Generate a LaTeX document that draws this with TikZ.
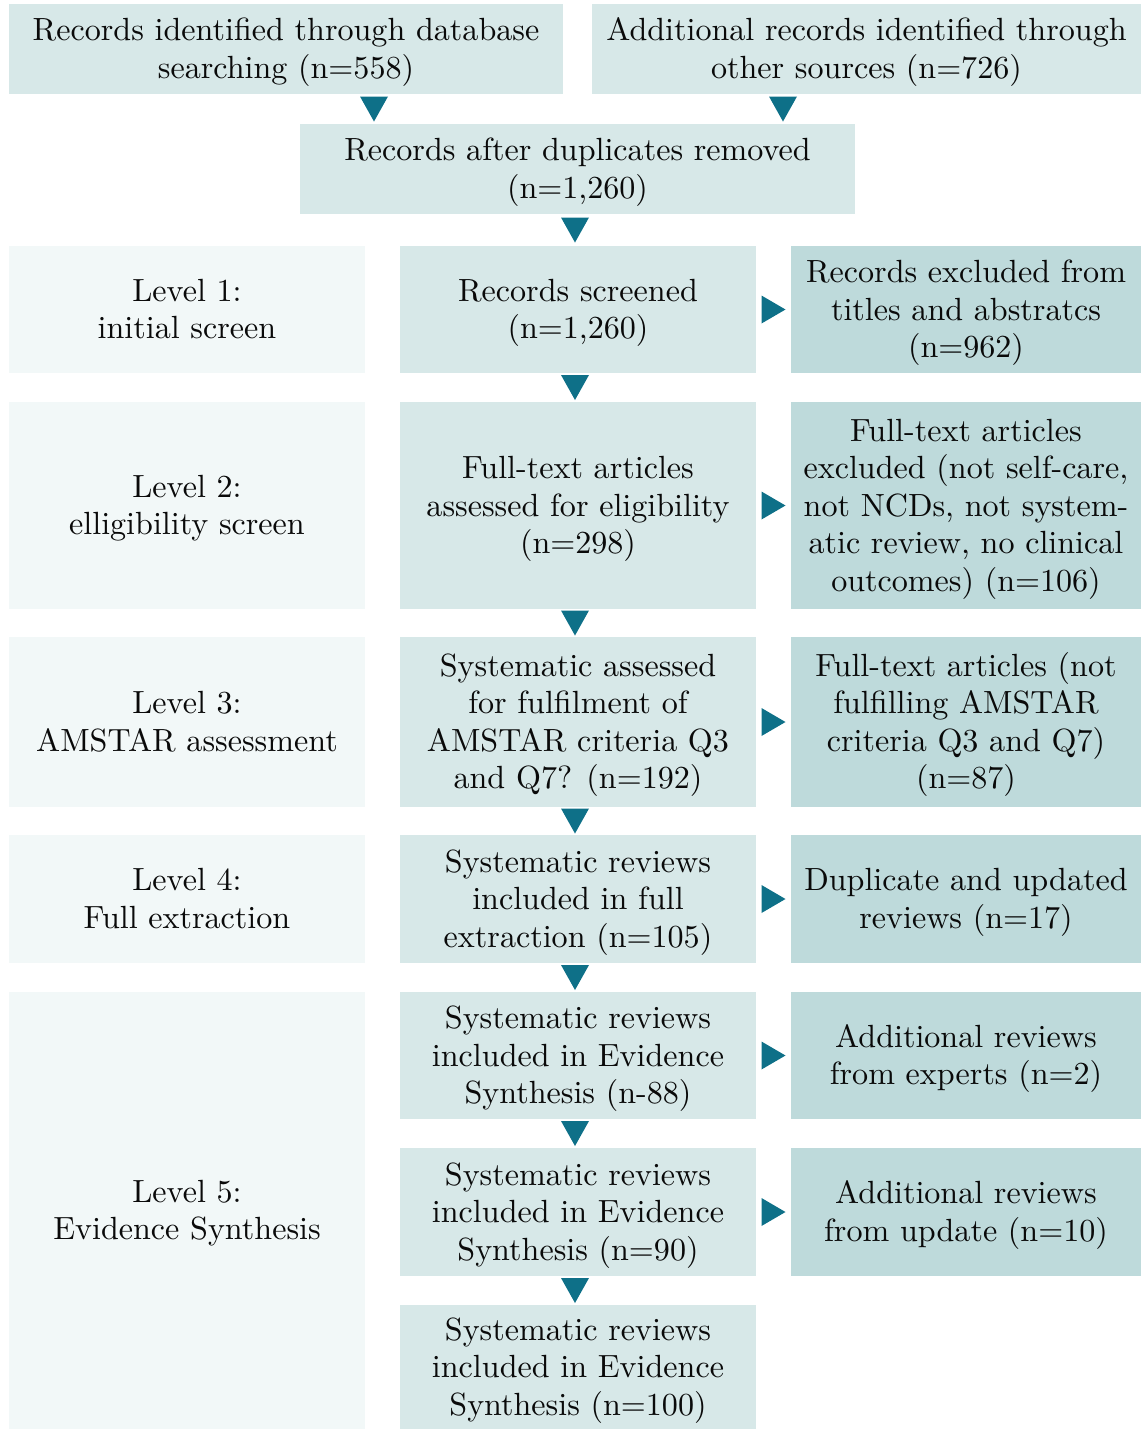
\documentclass[tikz,border=0pt]{standalone}
\usetikzlibrary{calc}
\definecolor{boxc}{HTML}{D7E8E8}
\definecolor{exc}{HTML}{BEDADB}
\definecolor{lvc}{HTML}{F2F8F8}
\definecolor{arrc}{HTML}{0E7088}
\definecolor{txt}{HTML}{0A0A0A}
\tikzset{
  base/.style={inner sep=0pt, outer sep=0pt, text=txt,
    font=\fontsize{10.7}{12.5}\selectfont},
  mainbox/.style={base, fill=boxc},
  exbox/.style={base, fill=exc},
  lvbox/.style={base, fill=lvc},
  arrfill/.style={fill=arrc},
}
% name, style, x1, y1, x2, y2, text   (pixel coordinates, y downward)
\newcommand\bx[7]{\node[#2, minimum width={(#5-#3)*0.33333pt}, minimum height={(#6-#4)*0.33333pt}] (#1) at ({(#3+#5)/2},{(#4+#6)/2}) {\raisebox{-1pt}[\height][\depth]{\begin{tabular}{@{}c@{}}#7\end{tabular}}};}
\newcommand\darr[2]{\fill[arrfill] ($#1!.5!#2$) ++(-14,-12.5) -- ++(28,0) -- ++(-14,25) -- cycle;}
\newcommand\rarr[2]{\fill[arrfill] ($#1!.5!#2$) ++(-12,-14) -- ++(24,14) -- ++(-24,14) -- cycle;}
\begin{document}
\begin{tikzpicture}[x=0.33333pt, y=-0.33333pt]
\useasboundingbox (0,0) rectangle (1141,1429);
% top
\bx{A}{mainbox}{9}{4}{563}{94}{Records identified through database\\searching (n=558)}
\bx{B}{mainbox}{592}{4}{1141}{94}{Additional records identified through\\other sources (n=726)}
\bx{C}{mainbox}{300}{124}{855}{214}{Records after duplicates removed\\(n=1,260)}
% levels
\bx{L1}{lvbox}{9}{246}{365}{373}{Level 1:\\initial screen}
\bx{L2}{lvbox}{9}{402}{365}{609}{Level 2:\\elligibility screen}
\bx{L3}{lvbox}{9}{637}{365}{807}{Level 3:\\AMSTAR assessment}
\bx{L4}{lvbox}{9}{835}{365}{963}{Level 4:\\Full extraction}
\bx{L5}{lvbox}{9}{992}{365}{1429}{Level 5:\\Evidence Synthesis}
% middle
\bx{M1}{mainbox}{400}{246}{756}{373}{Records screened\\(n=1,260)}
\bx{M2}{mainbox}{400}{402}{756}{609}{Full-text articles\\assessed for eligibility\\(n=298)}
\bx{M3}{mainbox}{400}{637}{756}{807}{Systematic assessed\\for fulfilment of\\AMSTAR criteria Q3\\and Q7? (n=192)}
\bx{M4}{mainbox}{400}{835}{756}{963}{Systematic reviews\\included in full\\extraction (n=105)}
\bx{M5}{mainbox}{400}{992}{756}{1119}{Systematic reviews\\included in Evidence\\Synthesis (n-88)}
\bx{M6}{mainbox}{400}{1148}{756}{1276}{Systematic reviews\\included in Evidence\\Synthesis (n=90)}
\bx{M7}{mainbox}{400}{1305}{756}{1429}{Systematic reviews\\included in Evidence\\Synthesis (n=100)}
% right
\bx{X1}{exbox}{791}{246}{1141}{373}{Records excluded from\\titles and abstratcs\\(n=962)}
\bx{X2}{exbox}{791}{402}{1141}{609}{Full-text articles\\excluded (not self-care,\\not NCDs, not system-\\atic review, no clinical\\outcomes) (n=106)}
\bx{X3}{exbox}{791}{637}{1141}{807}{Full-text articles (not\\fulfilling AMSTAR\\criteria Q3 and Q7)\\(n=87)}
\bx{X4}{exbox}{791}{835}{1141}{963}{Duplicate and updated\\reviews (n=17)}
\bx{X5}{exbox}{791}{992}{1141}{1119}{Additional reviews\\from experts (n=2)}
\bx{X6}{exbox}{791}{1148}{1141}{1276}{Additional reviews\\from update (n=10)}
% arrows
\coordinate (a1) at (374,0);
\coordinate (a2) at (783,0);
\coordinate (a3) at (575,0);
\darr{(a1 |- A.south)}{(a1 |- C.north)}
\darr{(a2 |- B.south)}{(a2 |- C.north)}
\darr{(a3 |- C.south)}{(a3 |- M1.north)}
\darr{(a3 |- M1.south)}{(a3 |- M2.north)}
\darr{(a3 |- M2.south)}{(a3 |- M3.north)}
\darr{(a3 |- M3.south)}{(a3 |- M4.north)}
\darr{(a3 |- M4.south)}{(a3 |- M5.north)}
\darr{(a3 |- M5.south)}{(a3 |- M6.north)}
\darr{(a3 |- M6.south)}{(a3 |- M7.north)}
\rarr{(M1.east)}{(X1.west)}
\rarr{(M2.east)}{(X2.west)}
\rarr{(M3.east)}{(X3.west)}
\rarr{(M4.east)}{(X4.west)}
\rarr{(M5.east)}{(X5.west)}
\rarr{(M6.east)}{(X6.west)}
\end{tikzpicture}
\end{document}
